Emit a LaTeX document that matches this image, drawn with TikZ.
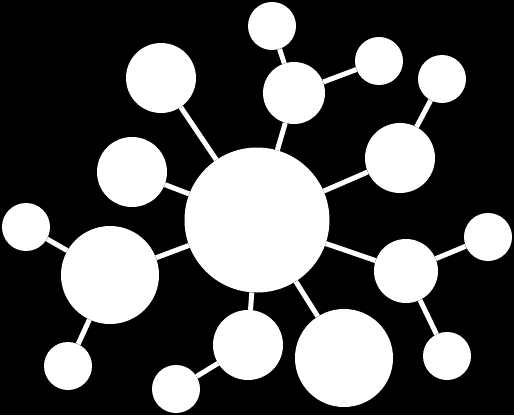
\documentclass[tikz,border=0pt]{standalone}
\usepackage{tikz}

\begin{document}
\begin{tikzpicture}[x=1pt,y=-1pt]
      \tikzstyle{big}=[circle, fill=white, inner sep=0pt, minimum size=145pt]
      \tikzstyle{large}=[circle, fill=white, inner sep=0pt, minimum size=98pt]
      \tikzstyle{medium}=[circle, fill=white, inner sep=0pt, minimum size=70pt]
      \tikzstyle{small}=[circle, fill=white, inner sep=0pt, minimum size=48pt]
      \tikzstyle{lien}=[draw=white, line width=5pt]

      \fill[black] (0,0) rectangle (514,415);
      \useasboundingbox (0,0) rectangle (514,415);

      \node[big] (Hub) at (257,220) {};
      \node[medium] (NO) at (161,78) {};
      \node[medium] (O) at (132,172) {};
      \node[large] (SO) at (110,275) {};
      \node[small] (SOa) at (26,227) {};
      \node[small] (SOb) at (68,366) {};
      \node[medium] (S) at (248,345) {};
      \node[small] (Sa) at (176,389) {};
      \node[large] (SE) at (344,358) {};
      \node[medium, minimum size=64pt] (E) at (406,271) {};
      \node[small] (Ea) at (488,237) {};
      \node[small] (Eb) at (447,356) {};
      \node[medium] (NE) at (400,158) {};
      \node[small] (NEa) at (442,79) {};
      \node[medium, minimum size=62pt] (N) at (294,93) {};
      \node[small] (Na) at (272,26) {};
      \node[small] (Nb) at (379,61) {};
      \draw[lien] (Hub)--(NO);
      \draw[lien] (Hub)--(O);
      \draw[lien] (Hub)--(SO);
      \draw[lien] (SO)--(SOa);
      \draw[lien] (SO)--(SOb);
      \draw[lien] (Hub)--(S);
      \draw[lien] (S)--(Sa);
      \draw[lien] (Hub)--(SE);
      \draw[lien] (Hub)--(E);
      \draw[lien] (E)--(Ea);
      \draw[lien] (E)--(Eb);
      \draw[lien] (Hub)--(NE);
      \draw[lien] (NE)--(NEa);
      \draw[lien] (Hub)--(N);
      \draw[lien] (N)--(Na);
      \draw[lien] (N)--(Nb);

    \end{tikzpicture}
\end{document}
